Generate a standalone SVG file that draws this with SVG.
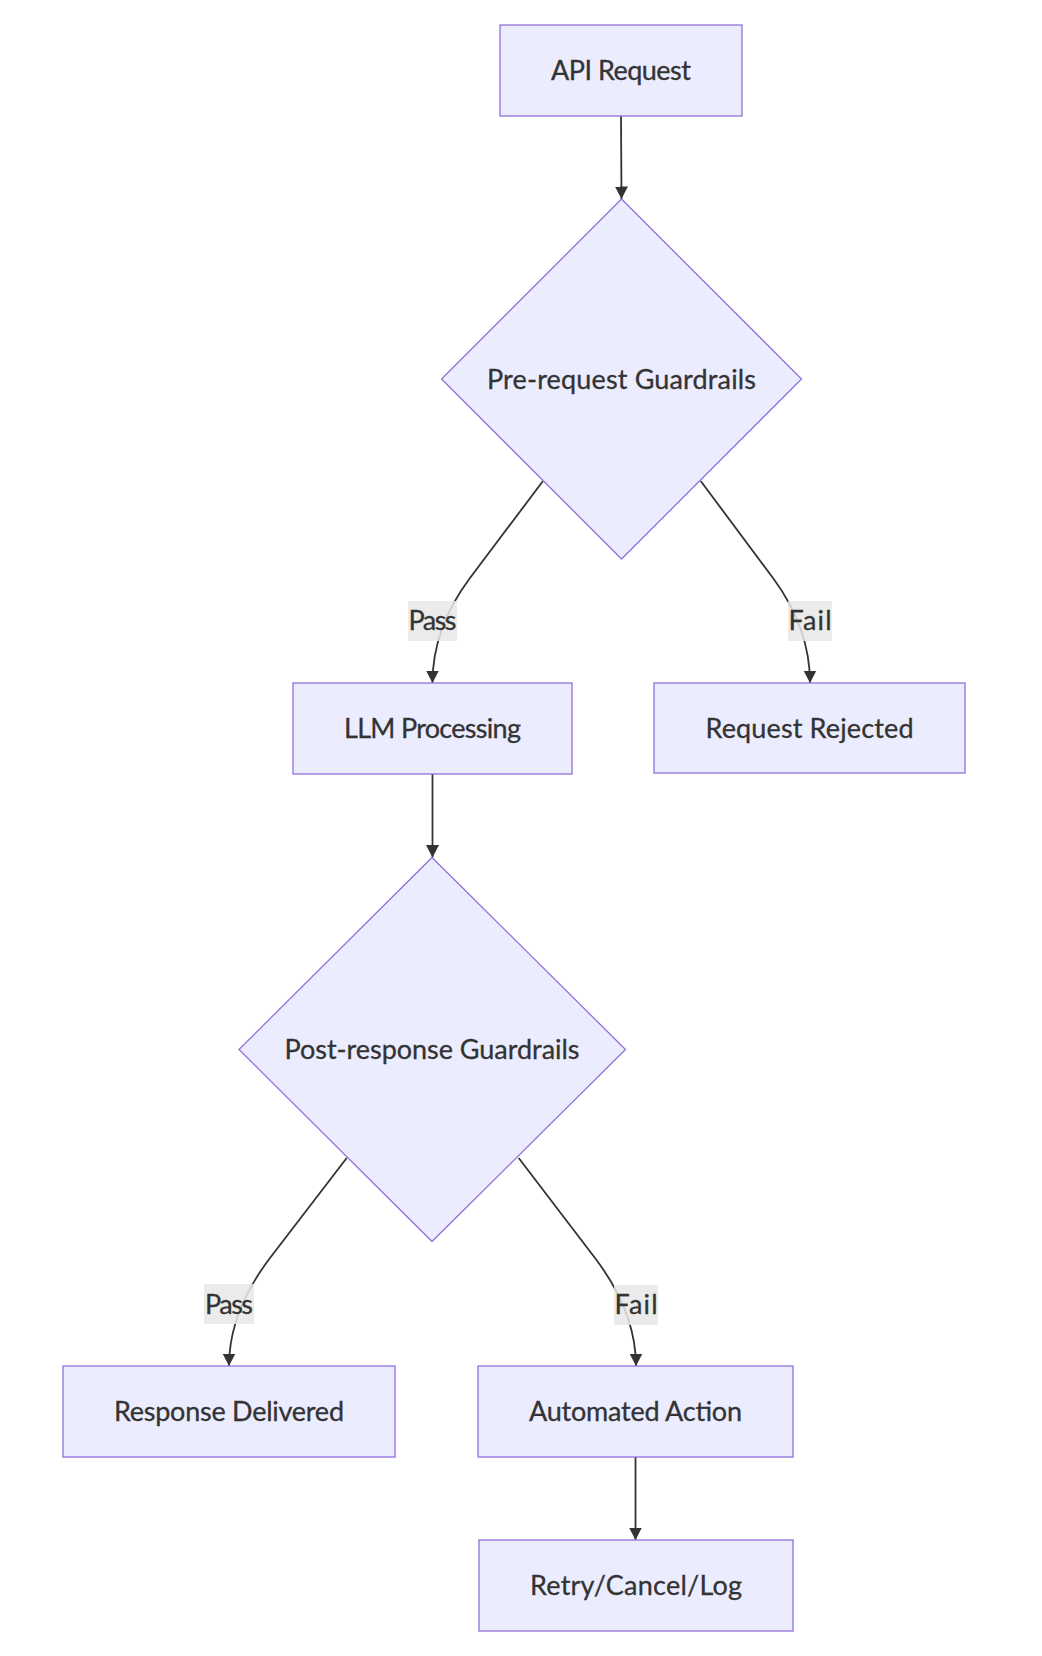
<svg xmlns="http://www.w3.org/2000/svg" width="1042" height="1656" viewBox="0 0 1042 1656">
<defs>
<style>
.node rect, .node polygon { fill: #ECECFF; stroke: #9370DB; stroke-width: 1.3; }
.node text, .elabel text { font-family: "Trebuchet MS", Lato, "Liberation Sans", sans-serif; font-size: 27px; fill: #333333; stroke: #333333; stroke-width: 0.3; text-anchor: middle; }
.edges path { fill: none; stroke: #333333; stroke-width: 1.8; }
.elabel rect { fill: #e8e8e8; opacity: 0.85; }
</style>
<marker id="arrow" markerUnits="userSpaceOnUse" markerWidth="14" markerHeight="14" refX="12.5" refY="7" orient="auto">
<path d="M0,0.5 L12.5,7 L0,13.5 z" fill="#333333"/>
</marker>
</defs>
<rect x="0" y="0" width="1042" height="1656" fill="#ffffff"/>
<g class="edges">
<path d="M621,116 L621.5,199" marker-end="url(#arrow)"/>
<path d="M543,481 L470,578 Q432.5,628 432.5,683" marker-end="url(#arrow)"/>
<path d="M700.7,481 L773,578 Q810,628 810,683" marker-end="url(#arrow)"/>
<path d="M432.5,774 L432.5,857.5" marker-end="url(#arrow)"/>
<path d="M346.7,1158 L270,1258 Q229,1312 229,1366" marker-end="url(#arrow)"/>
<path d="M518.7,1158 L595,1258 Q636,1312 636,1366" marker-end="url(#arrow)"/>
<path d="M635.5,1457 L635.5,1540" marker-end="url(#arrow)"/>
</g>
<g class="elabel" id="label-pass1"><rect x="408" y="601" width="49" height="40"/><text x="432.5" y="630" textLength="48">Pass</text></g>
<g class="elabel" id="label-fail1"><rect x="788" y="601" width="44" height="40"/><text x="810" y="630" textLength="43">Fail</text></g>
<g class="elabel" id="label-pass2"><rect x="204" y="1284" width="50" height="40"/><text x="229" y="1313.5" textLength="48">Pass</text></g>
<g class="elabel" id="label-fail2"><rect x="614" y="1285" width="44" height="40"/><text x="636" y="1314" textLength="43">Fail</text></g>
<g class="node" id="api-request"><rect x="500" y="25" width="242" height="91"/><text x="621" y="80" textLength="140">API Request</text></g>
<g class="node" id="pre-guardrails"><polygon points="621.5,199 801.5,379 621.5,559 441.5,379"/><text x="621.5" y="388.5" textLength="269">Pre-request Guardrails</text></g>
<g class="node" id="llm-processing"><rect x="293" y="683" width="279" height="91"/><text x="432.5" y="738" textLength="177">LLM Processing</text></g>
<g class="node" id="request-rejected"><rect x="654" y="683" width="311" height="90"/><text x="809.5" y="738" textLength="208">Request Rejected</text></g>
<g class="node" id="post-guardrails"><polygon points="432,857.5 625.5,1049.5 432,1241.5 239,1049.5"/><text x="432" y="1059" textLength="295">Post-response Guardrails</text></g>
<g class="node" id="response-delivered"><rect x="63" y="1366" width="332" height="91"/><text x="229" y="1421" textLength="230">Response Delivered</text></g>
<g class="node" id="automated-action"><rect x="478" y="1366" width="315" height="91"/><text x="635.5" y="1421" textLength="213">Automated Action</text></g>
<g class="node" id="retry-cancel-log"><rect x="479" y="1540" width="314" height="91"/><text x="636" y="1595" textLength="212">Retry/Cancel/Log</text></g>
</svg>
